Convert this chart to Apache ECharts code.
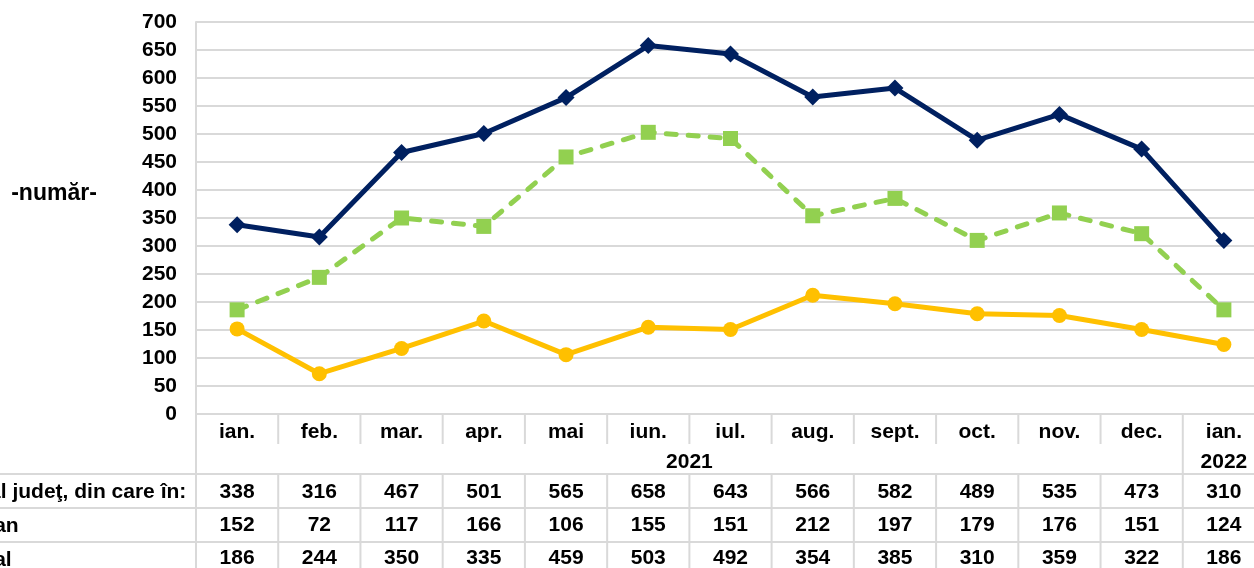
<!DOCTYPE html>
<html><head><meta charset="utf-8">
<script src="https://cdn.jsdelivr.net/npm/echarts@6/dist/echarts.min.js"></script>
<style>html,body{margin:0;padding:0;background:#fff;overflow:hidden}#c{width:1254px;height:568px;}</style>
</head><body><div id="c"></div>
<script>
const months = ['ian.','feb.','mar.','apr.','mai','iun.','iul.','aug.','sept.','oct.','nov.','dec.','ian.'];
const years = ['2021','2022'];
const rowLabels = ['Total judeţ, din care în:','Urban','Rural'];
const total = [338,316,467,501,565,658,643,566,582,489,535,473,310];
const urban = [152,72,117,166,106,155,151,212,197,179,176,151,124];
const rural = [186,244,350,335,459,503,492,354,385,310,359,322,186];
const yMin = 0, yMax = 700, yStep = 50;
const yName = '-număr-';

const FONT = '"Liberation Sans", Arial, sans-serif';
const FS = 21;
const GRID_COL = '#d9d9d9';
const txt = {fontFamily: FONT, fontSize: FS, fontWeight: 'bold', color: '#000'};

function rowAxis(values, margin) {
  return {
    type: 'category', gridIndex: 0, position: 'bottom', data: values.map(String),
    axisLine: {show: false}, axisTick: {show: false}, splitLine: {show: false},
    axisLabel: Object.assign({interval: 0, margin: margin}, txt)
  };
}

const chart = echarts.init(document.getElementById('c'), null, {renderer: 'canvas'});
chart.setOption({
  animation: false,
  backgroundColor: '#fff',
  grid: {left: 196, top: 22, width: 1069, height: 392, containLabel: false, outerBoundsMode: 'none'},
  xAxis: [
    {
      type: 'category', gridIndex: 0, position: 'bottom', data: months, boundaryGap: true,
      axisLine: {show: true, lineStyle: {color: GRID_COL, width: 2}},
      axisTick: {show: false},
      axisLabel: Object.assign({interval: 0, margin: 8}, txt)
    },
    rowAxis(total, 68),
    rowAxis(urban, 101),
    rowAxis(rural, 134)
  ],
  yAxis: {
    type: 'value', min: yMin, max: yMax, interval: yStep,
    axisLine: {show: true, lineStyle: {color: GRID_COL, width: 2}},
    axisTick: {show: false},
    splitLine: {show: true, lineStyle: {color: GRID_COL, width: 2}},
    axisLabel: Object.assign({margin: 19}, txt)
  },
  series: [
    {
      name: rowLabels[0], type: 'line', data: total, xAxisIndex: 0,
      symbol: 'diamond', symbolSize: 17,
      lineStyle: {color: '#002060', width: 5},
      itemStyle: {color: '#002060'}, z: 4
    },
    {
      name: rowLabels[2], type: 'line', data: rural, xAxisIndex: 0,
      symbol: 'rect', symbolSize: 15,
      lineStyle: {color: '#92D050', width: 5, type: [10, 12], cap: 'round'},
      itemStyle: {color: '#92D050'}, z: 3
    },
    {
      name: rowLabels[1], type: 'line', data: urban, xAxisIndex: 0,
      symbol: 'circle', symbolSize: 15,
      lineStyle: {color: '#FFC000', width: 5},
      itemStyle: {color: '#FFC000'}, z: 2
    }
  ]
});

// table lines and texts, positioned through the axis scale
const px = i => chart.convertToPixel({xAxisIndex: 0}, i);
const y0 = chart.convertToPixel({yAxisIndex: 0}, yMin);
const n = months.length;
const bounds = [];
for (let i = 0; i <= n; i++) {
  if (i === 0) bounds.push(px(0) - (px(1) - px(0)) / 2);
  else if (i === n) bounds.push(px(n - 1) + (px(n - 1) - px(n - 2)) / 2);
  else bounds.push((px(i - 1) + px(i)) / 2);
}
const rowTops = [y0 + 60, y0 + 94, y0 + 128];
const bottom = 600;
const ls = {stroke: GRID_COL, lineWidth: 2};
const g = [];
rowTops.forEach(y => g.push({type: 'line', shape: {x1: 0, y1: y, x2: 1300, y2: y}, style: ls, silent: true}));
bounds.forEach((x, i) => {
  const full = (i === 0 || i === n - 1 || i === n);
  g.push({type: 'line', shape: {x1: x, y1: y0, x2: x, y2: full ? rowTops[0] : y0 + 30}, style: ls, silent: true});
  g.push({type: 'line', shape: {x1: x, y1: rowTops[0], x2: x, y2: bottom}, style: ls, silent: true});
});
// year row
g.push({type: 'text', x: (px(0) + px(11)) / 2, y: y0 + 48,
  style: {text: years[0], font: 'bold ' + FS + 'px ' + FONT, fill: '#000', textAlign: 'center', textVerticalAlign: 'middle'}});
g.push({type: 'text', x: px(12), y: y0 + 48,
  style: {text: years[1], font: 'bold ' + FS + 'px ' + FONT, fill: '#000', textAlign: 'center', textVerticalAlign: 'middle'}});
// row labels
const rowCenters = [rowTops[0] + 18, rowTops[1] + 18, rowTops[2] + 18];
rowLabels.forEach((t, i) => g.push({type: 'text', x: -42, y: rowCenters[i],
  style: {text: t, font: 'bold ' + FS + 'px ' + FONT, fill: '#000', textAlign: 'left', textVerticalAlign: 'middle'}}));
// y axis name
g.push({type: 'text', x: 54, y: 194,
  style: {text: yName, font: 'bold 23px ' + FONT, fill: '#000', textAlign: 'center', textVerticalAlign: 'middle'}});
chart.setOption({graphic: g});
</script></body></html>
